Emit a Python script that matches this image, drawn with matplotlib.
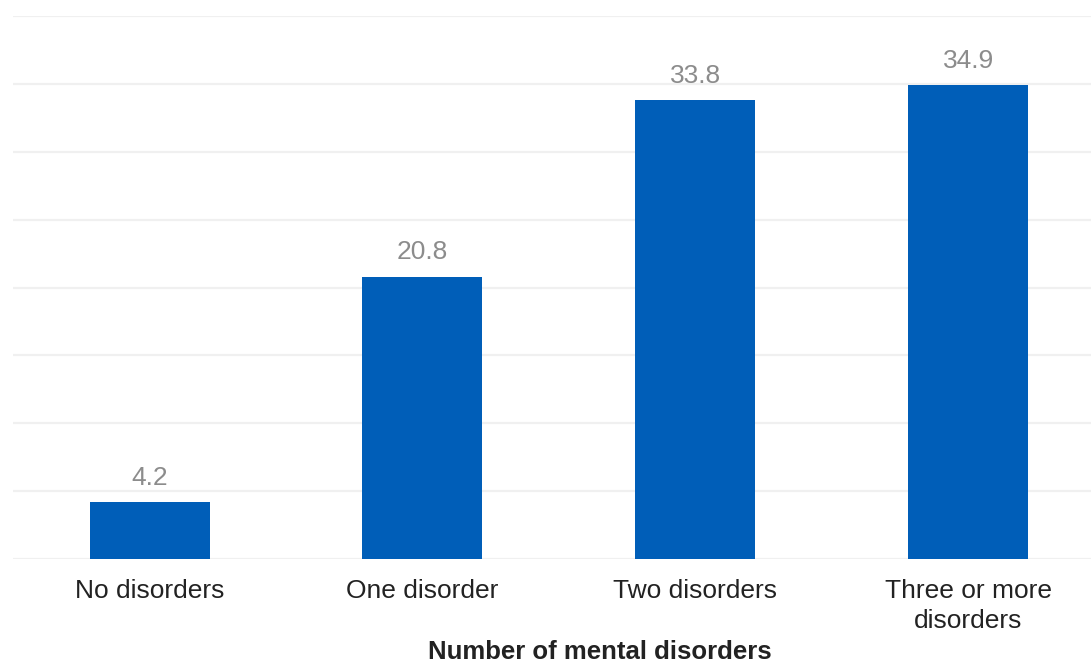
import matplotlib
matplotlib.use('Agg')
import matplotlib.pyplot as plt

categories = ['No disorders', 'One disorder', 'Two disorders', 'Three or more\ndisorders']
values = [4.2, 20.8, 33.8, 34.9]

plt.rcParams['font.family'] = ['Liberation Sans', 'DejaVu Sans']

fig = plt.figure(figsize=(10.91, 6.64), dpi=100)
ax = fig.add_axes([0.012, 0.158, 0.988, 0.818])

bars = ax.bar(range(len(categories)), values, width=0.44, color='#005EB8', zorder=3)
for b, v in zip(bars, values):
    ax.annotate(f'{v:.1f}', (b.get_x() + b.get_width() / 2, v), xytext=(0, 9),
                textcoords='offset points', ha='center', va='bottom',
                fontsize=19, color='#8c8c8c')

ax.set_ylim(0, 40)
ax.set_xlim(-0.5, 3.45)
ax.set_yticks(range(0, 41, 5))
ax.yaxis.grid(True, color='#f0f0f0', linewidth=1.6, zorder=0)
ax.tick_params(axis='y', left=False, labelleft=False)
ax.tick_params(axis='x', length=0, pad=14, labelsize=19, labelcolor='#222222')
ax.set_xticks(range(len(categories)))
ax.set_xticklabels(categories, linespacing=1.35)
for s in ax.spines.values():
    s.set_visible(False)
fig.text(0.55, 0.0, 'Number of mental disorders', fontsize=18.5, fontweight='bold',
         color='#222222', ha='center', va='bottom')

fig.savefig('out.png', dpi=100, facecolor='white')
